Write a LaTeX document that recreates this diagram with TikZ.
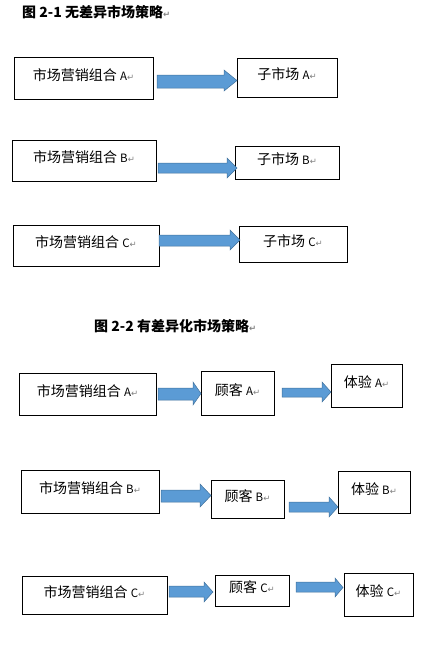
\documentclass[tikz,border=0pt]{standalone}
\usepackage{fontspec}
\setmainfont{Liberation Sans}
\newfontfamily\cjk{Noto Sans CJK SC}
\newfontfamily\dejavu{DejaVu Sans}
\newcommand\ltr[1]{{\fontsize{11.5}{13}\selectfont #1}}
\newcommand\ret{{\color{gray}\dejavu\fontsize{8.5}{9}\selectfont ↵}}

\begin{document}
\begin{tikzpicture}[x=1pt, y=-1pt,
  box/.style={draw, line width=0.8pt, fill=white, inner sep=0pt, outer sep=0pt,
    text height=11pt, text depth=7pt, font=\cjk\fontsize{14}{16}\selectfont},
  barrow/.style={fill={rgb,255:red,91;green,155;blue,213},
    draw={rgb,255:red,65;green,113;blue,156}, line width=0.5pt, line join=miter},
  ttl/.style={anchor=west, inner sep=0pt, font=\cjk\bfseries\fontsize{14}{16}\selectfont}]
\useasboundingbox (0,0) rectangle (431,657);

\node [ttl] (t1) at (22,12) {图 2-1 无差异市场策略\ret};

\node [box, minimum width=139, minimum height=42] (mA) at (83.5,78)  {市场营销组合 \ltr{A}\ret};
\node [box, minimum width=100, minimum height=39] (sA) at (287,77.5)  {子市场 \ltr{A}\ret};
\node [box, minimum width=144, minimum height=41] (mB) at (84,160.5)  {市场营销组合 \ltr{B}\ret};
\node [box, minimum width=104, minimum height=33] (sB) at (287,162.5) {子市场 \ltr{B}\ret};
\node [box, minimum width=146, minimum height=41] (mC) at (86,245.5)  {市场营销组合 \ltr{C}\ret};
\node [box, minimum width=108, minimum height=36] (sC) at (293,244)   {子市场 \ltr{C}\ret};

\draw [barrow] (157,75)  -- (224,75)  -- (224,70)  -- (237,80.5) -- (224,91)  -- (224,88)  -- (157,88)  -- cycle;
\draw [barrow] (158,163) -- (227,163) -- (227,158) -- (237,168)  -- (227,178) -- (227,173) -- (158,173) -- cycle;
\draw [barrow] (159,235) -- (230,235) -- (230,230) -- (240,240)  -- (230,250) -- (230,246) -- (159,246) -- cycle;

%%%%%%%%%%%%%%%%%%%%%%%%%%%%%%%%%%%%%%%%

\node [ttl] (t2) at (94,326) {图 2-2 有差异化市场策略\ret};

\node [box, minimum width=137, minimum height=42] (pA) at (87.5,394)  {市场营销组合 \ltr{A}\ret};
\node [box, minimum width=73,  minimum height=44] (cA) at (237.5,393) {顾客 \ltr{A}\ret};
\node [box, minimum width=71,  minimum height=43] (eA) at (366.5,385.5) {体验 \ltr{A}\ret};
\node [box, minimum width=138, minimum height=43] (pB) at (90,491.5)  {市场营销组合 \ltr{B}\ret};
\node [box, minimum width=73,  minimum height=38] (cB) at (247.5,499) {顾客 \ltr{B}\ret};
\node [box, minimum width=72,  minimum height=42] (eB) at (374,492)   {体验 \ltr{B}\ret};
\node [box, minimum width=145, minimum height=38] (pC) at (94.5,595)  {市场营销组合 \ltr{C}\ret};
\node [box, minimum width=74,  minimum height=31] (cC) at (252,590.5) {顾客 \ltr{C}\ret};
\node [box, minimum width=69,  minimum height=43] (eC) at (378.5,594.5) {体验 \ltr{C}\ret};

\draw [barrow] (158,388) -- (193,388) -- (193,382) -- (201,393.5) -- (193,405) -- (193,400) -- (158,400) -- cycle;
\draw [barrow] (282,388) -- (322,388) -- (322,382) -- (331,392)   -- (322,402) -- (322,397) -- (282,397) -- cycle;
\draw [barrow] (161,490) -- (200,490) -- (200,484) -- (211,495.5) -- (200,507) -- (200,502) -- (161,502) -- cycle;
\draw [barrow] (289,502) -- (329,502) -- (329,497) -- (338,507)   -- (329,517) -- (329,512) -- (289,512) -- cycle;
\draw [barrow] (169,586) -- (204,586) -- (204,582) -- (213,592)   -- (204,602) -- (204,597) -- (169,597) -- cycle;
\draw [barrow] (296,582) -- (335,582) -- (335,578) -- (343,587.5) -- (335,597) -- (335,592) -- (296,592) -- cycle;

\end{tikzpicture}
\end{document}
